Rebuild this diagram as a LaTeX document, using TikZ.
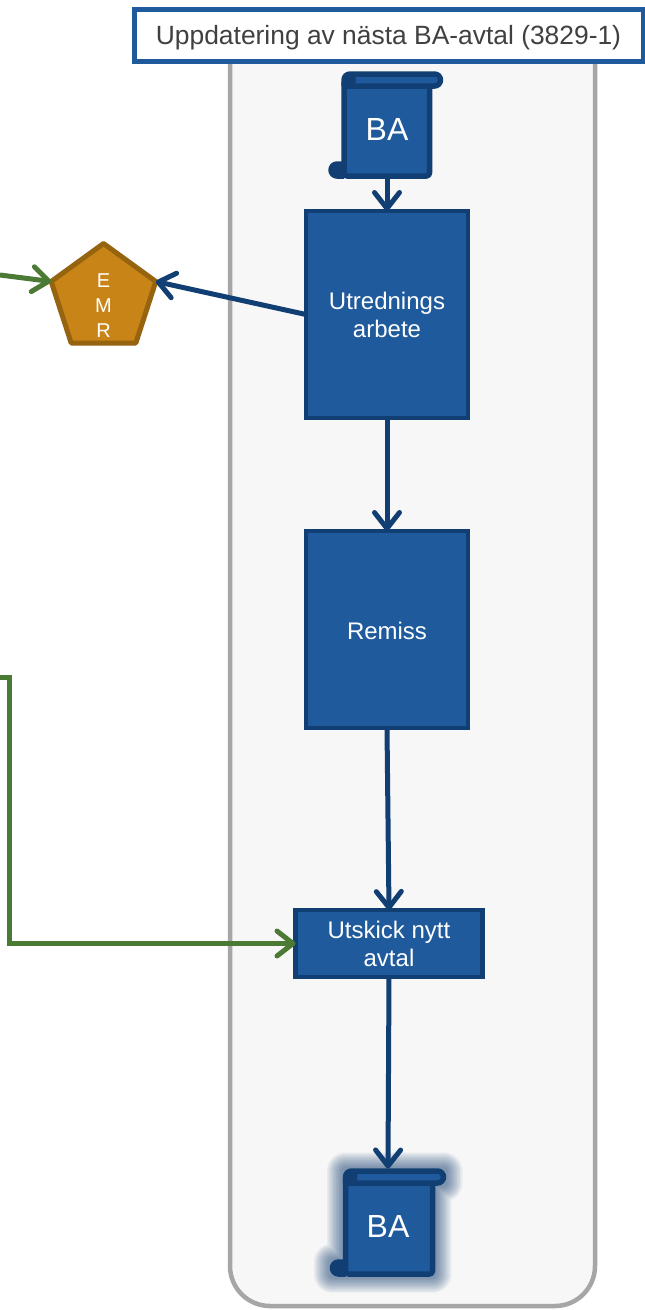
\documentclass[tikz,border=0pt]{standalone}
\usepackage{fontspec}
\setmainfont{Liberation Sans}
\usetikzlibrary{arrows.meta,shapes.geometric}
\definecolor{bluefill}{HTML}{1F5A9C}
\definecolor{bluedark}{HTML}{123F73}
\definecolor{greenline}{HTML}{4A7A34}
\definecolor{lanegray}{HTML}{A6A6A6}
\definecolor{lanefill}{HTML}{F7F7F7}
\definecolor{emrfill}{HTML}{C98417}
\definecolor{emrline}{HTML}{96640F}
\definecolor{titletext}{HTML}{404040}
\tikzset{
  tip/.style={-{Straight Barb[length=16pt,width=25pt,line cap=round,round]}},
  blueflow/.style={draw=bluedark,line width=5pt,tip},
  greenflow/.style={draw=greenline,line width=5pt,tip,line join=miter},
  procbox/.style={draw=bluedark,fill=bluefill,line width=4.5pt,outer sep=0pt,text=white,font=\fontsize{24}{28}\selectfont,align=center,inner sep=0pt,anchor=north west,execute at begin node={\rule{0pt}{20.5pt}}},
  scrolltext/.style={text=white,font=\fontsize{32}{36}\selectfont,inner sep=0pt,anchor=center},
  scrollline/.style={draw=bluedark,line width=5.5pt,line join=round},
  scroll/.pic={
    \path[fill=bluefill] (0,2) rectangle (\scrw,\scrh);
    \draw[scrollline,fill=bluefill,rounded corners=3pt]
      (0,8) -- (0,\scrh) -- (\scrw,\scrh) -- (\scrw,12);
    \draw[scrollline,fill=bluefill]
      (0,12) [rounded corners=6pt] -- (0,0) -- (\scrw+11,0) -- (\scrw+11,12) -- (\scrw/2,12) [sharp corners] -- (0,12);
    \fill[bluedark] (5,6) circle (7pt);
    \draw[scrollline,fill=bluedark] (0,\scrh-12) -- (-7,\scrh-12)
       arc[start angle=90,end angle=270,radius=6pt] -- (0,\scrh);
  },
  scrollglow/.pic={
    \foreach \w in {38,36.5,35,33.5,32,30.5,29,27.5,26,24.5,23,21.5,20,18.5,17,15.5,14,12.5,11,9.5,8}{
      \draw[draw=bluedark,opacity=0.03,line width=\w pt,line join=round]
        (0,0) -- (\scrw+11,0) -- (\scrw+11,12) -- (\scrw,12) -- (\scrw,\scrh) -- (-13,\scrh)
        -- (-13,\scrh-12) -- (0,\scrh-12) -- cycle;
    }
  }
}
\newcommand{\scrw}{85.5}
\newcommand{\scrh}{102}
\begin{document}
\begin{tikzpicture}[x=1pt,y=-1pt]
\useasboundingbox[fill=white] (0,0) rectangle (645,1310);

% lane and title
\draw[draw=lanegray,fill=lanefill,line width=4.5pt,rounded corners=40pt] (230,15) rectangle (595,1306);
\node[draw=bluefill,fill=white,line width=5pt,outer sep=0pt,text=titletext,font=\fontsize{26.4}{30}\selectfont,
      minimum width=509pt,minimum height=51.5pt,inner sep=0pt,anchor=north west] (title) at (134,9.5)
      {\raisebox{-9.5pt}[0pt][0pt]{Uppdatering av nästa BA-avtal (3829-1)}};

% first scroll
\pic at (344,74) {scroll};
\node[scrolltext] (ba1) at (387,129) {BA};
\coordinate (ba1bot) at (387,176);

% process boxes
\node[procbox,minimum width=162pt,minimum height=207pt] (utr) at (306,211) {Utrednings\\arbete};
\node[procbox,minimum width=162pt,minimum height=197pt] (rem) at (306,531) {Remiss};
\node[procbox,minimum width=187pt,minimum height=67pt] (uts) at (295.5,910) {Utskick nytt\\avtal};

% EMR pentagon
\node[regular polygon,regular polygon sides=5,draw=emrline,fill=emrfill,line width=5pt,line join=round,outer sep=0pt,
      minimum size=110pt,inner sep=0pt,text=white,font=\fontsize{20}{25}\selectfont] (emr) at (103.5,298.5)
      {\raisebox{-12pt}[0pt][0pt]{\parbox{20pt}{\centering E\\M\\R}}};

% second scroll with glow
\renewcommand{\scrw}{87}
\renewcommand{\scrh}{103}
\pic at (345.5,1171) {scrollglow};
\pic at (345.5,1171) {scroll};
\node[scrolltext] (ba2) at (388,1226) {BA};
\coordinate (ba2top) at (388,1168.5);

% free ends
\coordinate (gstart1) at (0,275);
\coordinate (gstart2) at (0,677);
\coordinate (gbend1) at (9,677);

% connectors
\draw[blueflow] (ba1bot) -- (utr.north);
\draw[blueflow] (utr.south) -- (rem.north);
\draw[blueflow] (rem.south) -- (uts.north);
\draw[blueflow] (uts.south) -- (ba2top);
\draw[blueflow] (utr.west) -- (emr.corner 5);
\draw[greenflow] (gstart1) -- (emr.corner 2);
\draw[greenflow] (gstart2) -- (gbend1) |- (uts.west);
\end{tikzpicture}
\end{document}
